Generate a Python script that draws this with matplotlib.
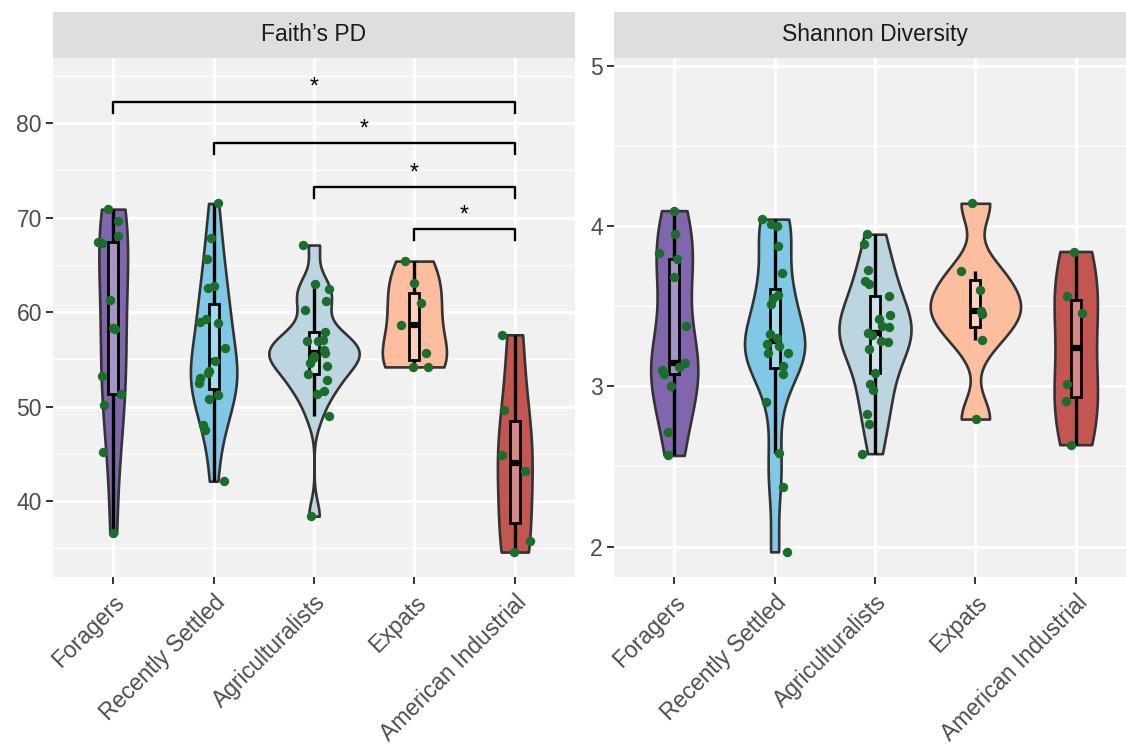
import numpy as np
import matplotlib
matplotlib.use("Agg")
import matplotlib.pyplot as plt
from matplotlib.colors import to_rgba
from matplotlib.patches import Rectangle

plt.rcParams['font.family'] = ['Liberation Sans', 'DejaVu Sans']

# ========== data ==========
groups = ["Foragers", "Recently Settled", "Agriculturalists", "Expats", "American Industrial"]
colors = ["#765AA6", "#76C5E5", "#B8D3DF", "#FDBA98", "#C04944"]

# Faith's PD (value, horizontal jitter in category units)
pd_foragers = [70.9, 69.6, 68.1, 67.4, 67.3, 61.3, 58.3, 58.2, 53.2, 51.3, 50.2, 45.2, 36.6]
pd_foragers_dx = [-0.05, 0.05, 0.05, -0.15, -0.11, -0.03, 0.0, 0.02, -0.11, 0.08, -0.09, -0.10, 0.0]
pd_settled = [71.5, 67.8, 65.6, 62.5, 62.8, 59.0, 59.3, 58.8, 56.2, 54.8, 53.8, 53.6, 53.0, 52.5,
              50.8, 51.2, 48.1, 47.5, 42.1]
pd_settled_dx = [0.04, -0.03, -0.07, -0.06, 0.0, -0.14, -0.08, 0.04, 0.11, 0.01, -0.05, -0.06, -0.14, -0.15,
                 -0.05, 0.04, -0.11, -0.09, 0.10]
pd_agri = [67.1, 63.0, 62.4, 61.2, 60.2, 57.9, 56.9, 56.9, 57.1, 56.0, 55.7, 55.4, 55.1, 54.6, 54.3,
           53.5, 52.8, 51.3, 51.7, 49.0, 38.4]
pd_agri_dx = [-0.11, 0.01, 0.15, 0.12, -0.09, 0.11, -0.07, 0.04, 0.09, 0.10, 0.11, 0.0, -0.01, -0.04, 0.13,
              -0.06, 0.13, 0.03, 0.10, 0.15, -0.03]
pd_expats = [65.4, 63.1, 61.0, 58.6, 55.7, 54.2, 54.2]
pd_expats_dx = [-0.09, 0.0, 0.07, -0.13, 0.12, -0.01, 0.14]
pd_usa = [57.6, 49.6, 44.9, 43.2, 35.8, 34.6]
pd_usa_dx = [-0.13, -0.11, -0.13, 0.10, 0.15, -0.01]

# Shannon diversity
sh_foragers = [4.097, 3.95, 3.835, 3.794, 3.68, 3.378, 3.149, 3.12, 3.10, 3.08, 3.0, 2.715, 2.569]
sh_foragers_dx = [0.0, 0.01, -0.15, 0.03, 0.0, 0.12, 0.11, 0.05, -0.12, -0.10, -0.03, -0.06, -0.06]
sh_settled = [4.044, 4.014, 4.0, 3.879, 3.71, 3.571, 3.551, 3.515, 3.328, 3.305, 3.266, 3.255, 3.21, 3.21,
              3.128, 3.079, 2.902, 2.584, 2.37, 1.967]
sh_settled_dx = [-0.13, -0.04, 0.02, 0.03, 0.07, 0.03, -0.02, -0.04, -0.05, 0.02, -0.08, 0.04, -0.07, 0.13,
                 0.08, 0.08, -0.09, 0.04, 0.08, 0.12]
sh_agri = [3.95, 3.89, 3.727, 3.655, 3.638, 3.565, 3.447, 3.422, 3.374, 3.368, 3.333, 3.318, 3.285, 3.28,
           3.235, 3.083, 3.014, 2.979, 2.827, 2.767, 2.58]
sh_agri_dx = [-0.08, -0.11, -0.07, -0.10, -0.06, 0.14, 0.15, 0.04, 0.07, 0.14, -0.07, -0.03, 0.06, 0.13,
              -0.06, 0.0, -0.05, -0.02, -0.08, -0.06, -0.13]
sh_expats = [4.143, 3.723, 3.603, 3.473, 3.451, 3.291, 2.796]
sh_expats_dx = [-0.03, -0.14, 0.05, 0.06, 0.07, 0.07, 0.01]
sh_usa = [3.842, 3.567, 3.461, 3.014, 2.906, 2.636]
sh_usa_dx = [-0.02, -0.09, 0.06, -0.09, -0.10, -0.05]

# significance brackets on Faith's PD
sig_pairs = [(1, 5), (2, 5), (3, 5), (4, 5)]
sig_y = [82.26, 77.85, 73.26, 68.75]
sig_labels = ["*", "*", "*", "*"]
# ==========================

W, H = 1126, 747


def bw_nrd0(x):
    x = np.asarray(x)
    hi = np.std(x, ddof=1)
    q1, q3 = np.percentile(x, [25, 75])
    lo = min(hi, (q3 - q1) / 1.34)
    if lo == 0:
        lo = hi
    return 0.9 * lo * len(x) ** -0.2


def kde(x, n=512):
    x = np.asarray(x)
    bw = bw_nrd0(x)
    grid = np.linspace(x.min(), x.max(), n)
    dens = np.exp(-0.5 * ((grid[:, None] - x[None, :]) / bw) ** 2).sum(axis=1)
    dens /= len(x) * bw * np.sqrt(2 * np.pi)
    return grid, dens


def draw_panel(ax, vals, dxs):
    dens = [kde(v) for v in vals]
    dmax = max(d.max() for _, d in dens)
    for i, (v, dx, (g, d), col) in enumerate(zip(vals, dxs, dens, colors), start=1):
        v = np.asarray(v)
        half = 0.45 * d / dmax
        ax.fill_betweenx(g, i - half, i + half, facecolor=to_rgba(col, 0.92),
                         edgecolor="#333333", linewidth=1.9, zorder=2)
        q1, med, q3 = np.percentile(v, [25, 50, 75])
        iqr = q3 - q1
        lo = v[v >= q1 - 1.5 * iqr].min()
        hi = v[v <= q3 + 1.5 * iqr].max()
        ax.plot([i, i], [lo, q1], color="black", lw=2.4, zorder=3, solid_capstyle="butt")
        ax.plot([i, i], [q3, hi], color="black", lw=2.4, zorder=3, solid_capstyle="butt")
        ax.add_patch(Rectangle((i - 0.05, q1), 0.1, q3 - q1, facecolor=(1, 1, 1, 0.3),
                               edgecolor="black", linewidth=2.0, zorder=3))
        ax.plot([i - 0.05, i + 0.05], [med, med], color="black", lw=4.5, zorder=3,
                solid_capstyle="butt")
        ax.scatter(i + np.asarray(dx), v, s=46, color="#1B6D2C", linewidths=0, zorder=5)


def style_axes(ax, yticks, yminor, ylim):
    ax.set_facecolor("#F1F1F1")
    ax.set_xlim(0.4, 5.6)
    ax.set_ylim(*ylim)
    ax.set_xticks(range(1, 6))
    ax.set_xticklabels(groups, rotation=45, ha="right", va="top", rotation_mode="anchor")
    ax.set_yticks(yticks)
    ax.set_yticks(yminor, minor=True)
    ax.grid(which="major", color="white", lw=2)
    ax.grid(which="minor", axis="y", color="white", lw=1)
    ax.set_axisbelow(True)
    for s in ax.spines.values():
        s.set_visible(False)
    ax.tick_params(which="major", length=5, width=1.4, color="#333333",
                   labelcolor="#4D4D4D", labelsize=16.5, pad=3)
    ax.tick_params(axis="x", which="major", pad=5)
    ax.tick_params(which="minor", length=0)


def add_strip(x0, title):
    sax = fig.add_axes([x0 / W, (H - 57.5) / H, 522 / W, 45.5 / H])
    sax.set_facecolor("#DEDEDE")
    sax.set_xticks([])
    sax.set_yticks([])
    for s in sax.spines.values():
        s.set_visible(False)
    sax.text(0.5, 0.5, title, ha="center", va="center", fontsize=16.5, color="#1A1A1A",
             transform=sax.transAxes)


fig = plt.figure(figsize=(W / 100, H / 100), dpi=100)
fig.patch.set_facecolor("white")

ax1 = fig.add_axes([53 / W, (H - 577) / H, 522 / W, 519 / H])
ax2 = fig.add_axes([614 / W, (H - 577) / H, 522 / W, 519 / H])

draw_panel(ax1, [pd_foragers, pd_settled, pd_agri, pd_expats, pd_usa],
           [pd_foragers_dx, pd_settled_dx, pd_agri_dx, pd_expats_dx, pd_usa_dx])
draw_panel(ax2, [sh_foragers, sh_settled, sh_agri, sh_expats, sh_usa],
           [sh_foragers_dx, sh_settled_dx, sh_agri_dx, sh_expats_dx, sh_usa_dx])

style_axes(ax1, [40, 50, 60, 70, 80], [35, 45, 55, 65, 75, 85], (31.96, 86.9))
style_axes(ax2, [2, 3, 4, 5], [2.5, 3.5, 4.5], (1.81, 5.05))

for (a, b), y, lab in zip(sig_pairs, sig_y, sig_labels):
    ax1.plot([a, a, b, b], [y - 1.15, y, y, y - 1.15], color="black", lw=1.7, zorder=6)
    ax1.text((a + b) / 2, y + 0.3, lab, ha="center", va="bottom", fontsize=16.5, color="black", zorder=6)

add_strip(53, "Faith\u2019s PD")
add_strip(614, "Shannon Diversity")

fig.savefig("out.png", dpi=100)
